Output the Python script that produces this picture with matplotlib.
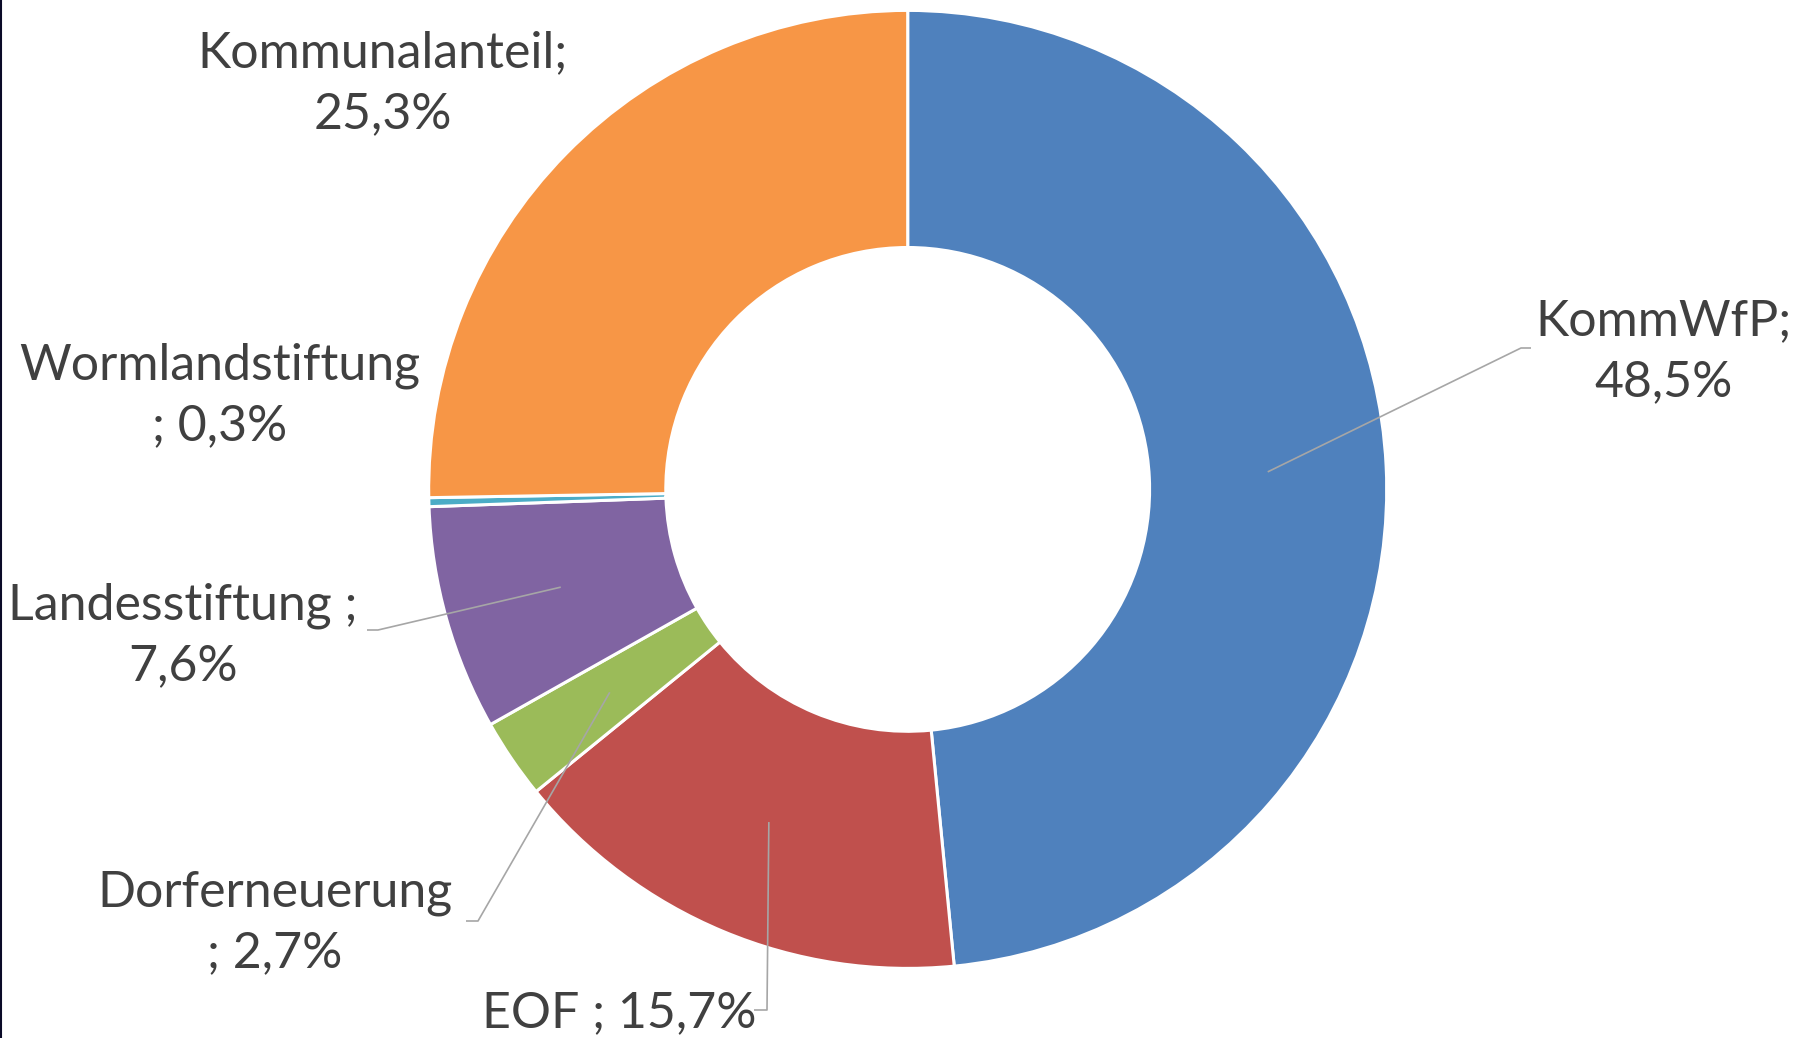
import matplotlib
matplotlib.use("Agg")
import matplotlib.pyplot as plt
import numpy as np
from matplotlib.lines import Line2D

categories = ["KommWfP", "EOF", "Dorferneuerung", "Landesstiftung", "Wormlandstiftung", "Kommunalanteil"]
values = [48.5, 15.7, 2.7, 7.6, 0.3, 25.3]
labels = ["KommWfP;\n48,5%", "EOF ; 15,7%", "Dorferneuerung\n; 2,7%", "Landesstiftung ;\n7,6%",
          "Wormlandstiftung\n; 0,3%", "Kommunalanteil;\n25,3%"]
colors = ["#4F81BD", "#C0504D", "#9BBB59", "#8064A2", "#4BACC6", "#F79646"]

W, H = 1797, 1038
fig = plt.figure(figsize=(W / 100, H / 100), dpi=100)
ax = fig.add_axes([0, 0, 1, 1])

cx, cy, R = 907.7, H - 489.4, 479
ring = 0.495
wedges, _ = ax.pie(values, colors=colors, startangle=90, counterclock=False,
                   center=(cx, cy), radius=R,
                   wedgeprops=dict(width=R * ring, edgecolor="white", linewidth=2.2))
ax.set_xlim(0, W)
ax.set_ylim(0, H)
ax.set_aspect("equal")
ax.axis("off")

# label positions (image pixel coords, y from top) and leader elbow points
label_pos = {
    "KommWfP": (1664, 352),
    "EOF": (619, 1013),
    "Dorferneuerung": (275, 923),
    "Landesstiftung": (183, 636),
    "Wormlandstiftung": (220, 396),
    "Kommunalanteil": (383, 84),
}
leader = {
    "KommWfP": [(1521, 348), (1531, 348)],
    "EOF": [(767, 1010), (754, 1010)],
    "Dorferneuerung": [(478, 921), (466, 921)],
    "Landesstiftung": [(378, 630), (367, 630)],
}

for w, cat, lab in zip(wedges, categories, labels):
    if cat in leader:
        ang = np.deg2rad((w.theta1 + w.theta2) / 2)
        rmid = R * (1 - ring / 2)
        sx, sy = cx + rmid * np.cos(ang), cy + rmid * np.sin(ang)
        pts = [(sx, sy)] + [(x, H - y) for x, y in leader[cat]]
        xs, ys = zip(*pts)
        ax.plot(xs, ys, color="#A6A6A6", lw=1.2, solid_capstyle="butt", zorder=5)
    x, y = label_pos[cat]
    ax.text(x, H - y, lab, ha="center", va="center", multialignment="center",
            fontsize=36, color="#404040", family=["Lato", "DejaVu Sans"], linespacing=1.4)

fig.add_artist(Line2D([0.6 / W, 0.6 / W], [0, 1], transform=fig.transFigure,
                      color="#0A0A28", lw=1.5))

fig.savefig("out.png", dpi=100)
